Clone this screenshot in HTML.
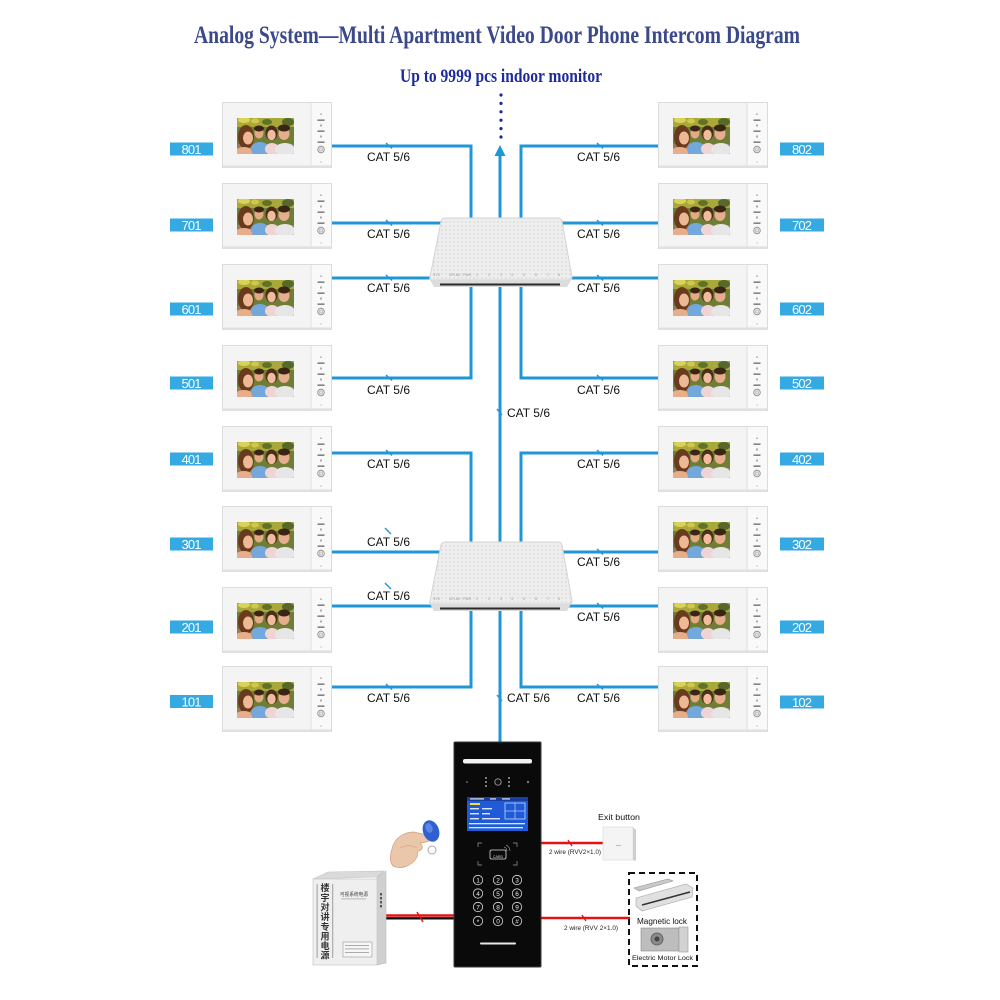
<!DOCTYPE html>
<html><head><meta charset="utf-8">
<style>
html,body{margin:0;padding:0;background:#fff;}
svg{display:block;}
</style></head>
<body>
<svg width="1000" height="1000" viewBox="0 0 1000 1000" xmlns="http://www.w3.org/2000/svg">
<defs>
  <clipPath id="scr"><rect x="15" y="16" width="57" height="36"/></clipPath>
  <g id="mon">
    <rect x="0.5" y="0.5" width="109" height="65" fill="#f4f4f4" stroke="#dcdcdc"/>
    <rect x="1" y="63.5" width="108" height="2.5" fill="#e0e0e0"/>
    <rect x="89" y="1" width="20" height="62" fill="#f9f9f9"/>
    <line x1="89" y1="1" x2="89" y2="64" stroke="#e0e0e0"/>
    <g clip-path="url(#scr)">
      <rect x="15" y="16" width="57" height="36" fill="#6f7e36"/>
      <rect x="15" y="16" width="57" height="9" fill="#a9a83a"/>
      <ellipse cx="22" cy="18" rx="6" ry="3" fill="#d9d357"/>
      <ellipse cx="33" cy="19" rx="4" ry="2.5" fill="#cfc84a"/>
      <ellipse cx="45" cy="20" rx="5" ry="3" fill="#5f7226"/>
      <ellipse cx="66" cy="20" rx="6" ry="4" fill="#56692a"/>
      <rect x="15" y="42" width="57" height="10" fill="#9a7a5a"/>
      <!-- woman -->
      <ellipse cx="24" cy="35" rx="8" ry="12" fill="#6a3a1c"/>
      <ellipse cx="26" cy="36" rx="5" ry="6.5" fill="#edb896"/>
      <ellipse cx="22" cy="50" rx="9" ry="5" fill="#e8ae8c"/>
      <!-- boy -->
      <ellipse cx="38" cy="47" rx="9" ry="7" fill="#72a8dc"/>
      <ellipse cx="37" cy="31" rx="4.5" ry="5.5" fill="#e4aa84"/>
      <ellipse cx="37" cy="26.5" rx="5" ry="3" fill="#3b2414"/>
      <!-- girl -->
      <ellipse cx="50" cy="47" rx="7" ry="6" fill="#f0d4d4"/>
      <ellipse cx="49.5" cy="31" rx="6" ry="7.5" fill="#4d2c18"/>
      <ellipse cx="49.5" cy="33" rx="4.2" ry="5.3" fill="#efbc9c"/>
      <!-- man -->
      <ellipse cx="63" cy="48" rx="10" ry="7" fill="#e6e6e6"/>
      <ellipse cx="62" cy="31.5" rx="5.5" ry="6.5" fill="#e6ae8c"/>
      <ellipse cx="62" cy="26" rx="6" ry="3.5" fill="#3a2414"/>
    </g>
    <rect x="98.3" y="11.5" width="1.4" height="1.4" fill="#999"/>
    <rect x="95.5" y="17.5" width="7" height="1.3" fill="#666"/>
    <rect x="98" y="22.5" width="2" height="2" fill="#aaa"/>
    <rect x="95.5" y="28.5" width="7" height="1.3" fill="#666"/>
    <rect x="98" y="33.5" width="2" height="2" fill="#aaa"/>
    <rect x="95.5" y="39.5" width="7" height="1.3" fill="#666"/>
    <circle cx="99" cy="47.5" r="3.3" fill="#e8e8e8" stroke="#8a8a8a" stroke-width="0.8"/>
    <circle cx="99" cy="47.5" r="1.5" fill="none" stroke="#aaa" stroke-width="0.6"/>
    <rect x="98.5" y="59.5" width="1" height="1" fill="#999"/>
  </g>
  <pattern id="dots" x="0" y="0" width="4" height="4" patternUnits="userSpaceOnUse">
    <circle cx="2" cy="2" r="0.7" fill="#cdcdcd"/>
  </pattern>
  <g id="sw">
    <path d="M445,218 L558,218 Q561,218 562,221 L572,277 Q572,280 569,280 L432,280 Q429,280 430,277 L441,221 Q442,218 445,218 Z" fill="#eeeeee" stroke="#d4d4d4"/>
    <path d="M445,218 L558,218 Q561,218 562,221 L572,277 Q572,280 569,280 L432,280 Q429,280 430,277 L441,221 Q442,218 445,218 Z" fill="url(#dots)"/>
    <polygon points="430,280 571,280 567,287 434,287" fill="#dcdcdc"/>
    <rect x="440" y="283.5" width="120" height="2" fill="#2a2a2a"/>
    <g font-family="Liberation Sans, sans-serif" font-size="3.5" fill="#999">
      <text x="433" y="276">SYS</text>
      <text x="449" y="276">UPLNK</text>
      <text x="463" y="276">PWR</text>
      <text x="476" y="276">1</text><text x="488" y="276">2</text><text x="500" y="276">3</text>
      <text x="511" y="276">4</text><text x="523" y="276">5</text><text x="535" y="276">6</text>
      <text x="547" y="276">7</text><text x="558" y="276">8</text>
    </g>
  </g>
</defs>

<!-- Title -->
<text x="194" y="43" textLength="606" lengthAdjust="spacingAndGlyphs" font-family="Liberation Serif, serif" font-weight="bold" font-size="25" fill="#3b4889">Analog System—Multi Apartment Video Door Phone Intercom Diagram</text>
<text x="400" y="82" textLength="202" lengthAdjust="spacingAndGlyphs" font-family="Liberation Serif, serif" font-weight="bold" font-size="19" fill="#1d2b9c">Up to 9999 pcs indoor monitor</text>

<!-- dots -->
<g fill="#1c2a96">
  <circle cx="501" cy="95" r="1.6"/><circle cx="501" cy="103.4" r="1.6"/><circle cx="501" cy="111.8" r="1.6"/>
  <circle cx="501" cy="120.2" r="1.6"/><circle cx="501" cy="128.6" r="1.6"/><circle cx="501" cy="137" r="1.6"/>
</g>

<!-- blue cables -->
<g stroke="#1f97d6" stroke-width="3" fill="none">
  <path d="M331,146 H471 V225"/>
  <path d="M331,223 H500"/>
  <path d="M331,278 H500"/>
  <path d="M331,378 H471 V280"/>
  <path d="M500,155 V742"/>
  <path d="M331,453 H471 V550"/>
  <path d="M331,552 H500"/>
  <path d="M331,606 H500"/>
  <path d="M331,687 H471 V605"/>
  <path d="M658,146 H521 V225"/>
  <path d="M658,223 H500"/>
  <path d="M658,278 H500"/>
  <path d="M658,378 H521 V280"/>
  <path d="M658,453 H521 V550"/>
  <path d="M658,552 H500"/>
  <path d="M658,606 H500"/>
  <path d="M658,687 H521 V605"/>
</g>
<polygon points="500,145 494.5,156 505.5,156" fill="#1f97d6"/>

<!-- ticks -->
<g stroke="#1f97d6" stroke-width="1.4">
  <line x1="386" y1="143" x2="392" y2="148.5"/>
  <line x1="386" y1="220" x2="392" y2="225.5"/>
  <line x1="386" y1="275" x2="392" y2="280.5"/>
  <line x1="386" y1="375" x2="392" y2="380.5"/>
  <line x1="386" y1="450" x2="392" y2="455.5"/>
  <line x1="385" y1="528" x2="391" y2="534"/>
  <line x1="385" y1="583" x2="391" y2="589"/>
  <line x1="386" y1="684" x2="392" y2="689.5"/>
  <line x1="597" y1="143" x2="603" y2="148.5"/>
  <line x1="597" y1="220" x2="603" y2="225.5"/>
  <line x1="597" y1="275" x2="603" y2="280.5"/>
  <line x1="597" y1="375" x2="603" y2="380.5"/>
  <line x1="597" y1="450" x2="603" y2="455.5"/>
  <line x1="597" y1="549" x2="603" y2="554.5"/>
  <line x1="597" y1="603" x2="603" y2="608.5"/>
  <line x1="597" y1="684" x2="603" y2="689.5"/>
  <line x1="497" y1="409" x2="502" y2="415"/>
  <line x1="497" y1="695" x2="502" y2="701"/>
</g>

<!-- CAT labels -->
<g font-family="Liberation Sans, sans-serif" font-size="12" fill="#111">
  <text x="367" y="161" textLength="43">CAT 5/6</text>
  <text x="367" y="238" textLength="43">CAT 5/6</text>
  <text x="367" y="292" textLength="43">CAT 5/6</text>
  <text x="367" y="394" textLength="43">CAT 5/6</text>
  <text x="367" y="468" textLength="43">CAT 5/6</text>
  <text x="367" y="546" textLength="43">CAT 5/6</text>
  <text x="367" y="600" textLength="43">CAT 5/6</text>
  <text x="367" y="702" textLength="43">CAT 5/6</text>
  <text x="577" y="161" textLength="43">CAT 5/6</text>
  <text x="577" y="238" textLength="43">CAT 5/6</text>
  <text x="577" y="292" textLength="43">CAT 5/6</text>
  <text x="577" y="394" textLength="43">CAT 5/6</text>
  <text x="577" y="468" textLength="43">CAT 5/6</text>
  <text x="577" y="566" textLength="43">CAT 5/6</text>
  <text x="577" y="621" textLength="43">CAT 5/6</text>
  <text x="577" y="702" textLength="43">CAT 5/6</text>
  <text x="507" y="417" textLength="43">CAT 5/6</text>
  <text x="507" y="702" textLength="43">CAT 5/6</text>
</g>

<!-- switches -->
<use href="#sw"/>
<use href="#sw" transform="translate(0,324)"/>

<!-- monitors -->
<use href="#mon" x="222" y="102"/>
<use href="#mon" x="222" y="183"/>
<use href="#mon" x="222" y="264"/>
<use href="#mon" x="222" y="345"/>
<use href="#mon" x="222" y="426"/>
<use href="#mon" x="222" y="506"/>
<use href="#mon" x="222" y="587"/>
<use href="#mon" x="222" y="666"/>
<use href="#mon" x="658" y="102"/>
<use href="#mon" x="658" y="183"/>
<use href="#mon" x="658" y="264"/>
<use href="#mon" x="658" y="345"/>
<use href="#mon" x="658" y="426"/>
<use href="#mon" x="658" y="506"/>
<use href="#mon" x="658" y="587"/>
<use href="#mon" x="658" y="666"/>

<!-- room labels -->
<g fill="#34a9e2">
  <rect x="170" y="142.5" width="43" height="13"/>
  <rect x="170" y="218.5" width="43" height="13"/>
  <rect x="170" y="302.5" width="43" height="13"/>
  <rect x="170" y="376.5" width="43" height="13"/>
  <rect x="170" y="452.5" width="43" height="13"/>
  <rect x="170" y="537.5" width="43" height="13"/>
  <rect x="170" y="620.5" width="43" height="13"/>
  <rect x="170" y="695" width="43" height="13"/>
  <rect x="780" y="142.5" width="44" height="13"/>
  <rect x="780" y="218.5" width="44" height="13"/>
  <rect x="780" y="302.5" width="44" height="13"/>
  <rect x="780" y="376.5" width="44" height="13"/>
  <rect x="780" y="452.5" width="44" height="13"/>
  <rect x="780" y="537.5" width="44" height="13"/>
  <rect x="780" y="620.5" width="44" height="13"/>
  <rect x="780" y="695.5" width="44" height="13"/>
</g>
<g font-family="Liberation Sans, sans-serif" font-size="13" fill="#ffffff" text-anchor="middle">
  <text x="191.5" y="154" textLength="20">801</text>
  <text x="191.5" y="230" textLength="20">701</text>
  <text x="191.5" y="314" textLength="20">601</text>
  <text x="191.5" y="388" textLength="20">501</text>
  <text x="191.5" y="464" textLength="20">401</text>
  <text x="191.5" y="549" textLength="20">301</text>
  <text x="191.5" y="632" textLength="20">201</text>
  <text x="191.5" y="706.5" textLength="20">101</text>
  <text x="802" y="154" textLength="20">802</text>
  <text x="802" y="230" textLength="20">702</text>
  <text x="802" y="314" textLength="20">602</text>
  <text x="802" y="388" textLength="20">502</text>
  <text x="802" y="464" textLength="20">402</text>
  <text x="802" y="549" textLength="20">302</text>
  <text x="802" y="632" textLength="20">202</text>
  <text x="802" y="707" textLength="20">102</text>
</g>

<!-- red wires -->
<line x1="386" y1="915.5" x2="455" y2="915.5" stroke="#e01414" stroke-width="2.6"/>
<line x1="386" y1="918.3" x2="455" y2="918.3" stroke="#111" stroke-width="2.4"/>
<line x1="417" y1="912" x2="423" y2="922" stroke="#e01414" stroke-width="1.4"/>
<line x1="540" y1="843" x2="604" y2="843" stroke="#e01414" stroke-width="2.4"/>
<line x1="568" y1="840" x2="572" y2="846" stroke="#e01414" stroke-width="1.3"/>
<line x1="540" y1="918" x2="630" y2="918" stroke="#e01414" stroke-width="2.4"/>
<line x1="582" y1="915" x2="586" y2="921" stroke="#e01414" stroke-width="1.3"/>

<!-- door station -->
<rect x="454" y="742" width="87" height="225" fill="#0a0a0a" stroke="#3a3a3a" rx="1"/>
<rect x="463" y="759" width="69" height="4.5" rx="2" fill="#f2f2f2"/>
<circle cx="467" cy="782" r="0.9" fill="#777"/>
<circle cx="528" cy="782" r="1.1" fill="#888"/>
<g fill="#cfcfcf">
  <circle cx="486" cy="778" r="0.9"/><circle cx="486" cy="782" r="0.9"/><circle cx="486" cy="786" r="0.9"/>
  <circle cx="509" cy="778" r="0.9"/><circle cx="509" cy="782" r="0.9"/><circle cx="509" cy="786" r="0.9"/>
</g>
<circle cx="498" cy="782" r="3.2" fill="#111" stroke="#9a9a9a" stroke-width="0.9"/>
<rect x="467" y="797" width="61" height="34" fill="#1f5bd6"/>
<rect x="467" y="797" width="61" height="4" fill="#163f9f"/>
<g fill="#ffffff" opacity="0.85">
  <rect x="470" y="798.3" width="14" height="1.2"/><rect x="490" y="798.3" width="6" height="1.2"/><rect x="502" y="798.3" width="8" height="1.2"/>
  <rect x="470" y="808" width="9" height="1.4"/><rect x="482" y="808" width="10" height="1.4"/>
  <rect x="470" y="813" width="9" height="1.4"/><rect x="482" y="813" width="8" height="1.4"/>
  <rect x="470" y="818" width="9" height="1.4"/><rect x="482" y="818" width="18" height="1.4"/>
  <rect x="469" y="823" width="56" height="1.3"/><rect x="469" y="827" width="54" height="1.3"/>
</g>
<rect x="470" y="803" width="10" height="2" fill="#f2e04a"/>
<rect x="505" y="803" width="20" height="16" fill="none" stroke="#fff" stroke-width="0.6"/>
<line x1="515" y1="803" x2="515" y2="819" stroke="#fff" stroke-width="0.5"/>
<line x1="505" y1="811" x2="525" y2="811" stroke="#fff" stroke-width="0.5"/>
<g stroke="#7a7a7a" stroke-width="0.9" fill="none">
  <path d="M478,847 V843 H482"/><path d="M513,843 H517 V847"/>
  <path d="M478,861 V865 H482"/><path d="M513,865 H517 V861"/>
</g>
<rect x="490" y="850" width="16" height="9" rx="1.5" fill="none" stroke="#ddd" stroke-width="0.8"/>
<text x="498" y="858" text-anchor="middle" font-family="Liberation Sans, sans-serif" font-size="3.6" fill="#ddd">CARD</text>
<path d="M504,847 Q507,848 507,851 M506,845 Q510,847 510,851" stroke="#aaa" stroke-width="0.6" fill="none"/>
<g stroke="#d8d8d8" stroke-width="0.8" fill="none">
  <circle cx="478" cy="880" r="4.7"/><circle cx="498" cy="880" r="4.7"/><circle cx="517" cy="880" r="4.7"/>
  <circle cx="478" cy="893.5" r="4.7"/><circle cx="498" cy="893.5" r="4.7"/><circle cx="517" cy="893.5" r="4.7"/>
  <circle cx="478" cy="907" r="4.7"/><circle cx="498" cy="907" r="4.7"/><circle cx="517" cy="907" r="4.7"/>
  <circle cx="478" cy="921" r="4.7"/><circle cx="498" cy="921" r="4.7"/><circle cx="517" cy="921" r="4.7"/>
</g>
<g font-family="Liberation Sans, sans-serif" font-size="6.5" fill="#eeeeee" text-anchor="middle">
  <text x="478" y="882.3">1</text><text x="498" y="882.3">2</text><text x="517" y="882.3">3</text>
  <text x="478" y="895.8">4</text><text x="498" y="895.8">5</text><text x="517" y="895.8">6</text>
  <text x="478" y="909.3">7</text><text x="498" y="909.3">8</text><text x="517" y="909.3">9</text>
  <text x="478" y="924">*</text><text x="498" y="923.3">0</text><text x="517" y="923.3">#</text>
</g>
<rect x="480" y="942.5" width="36" height="2" rx="1" fill="#e8e8e8"/>

<!-- hand with keyfob -->
<path d="M392,849 C394,838 404,832 414,832 L427,835 C432,837 431,842 426,842 L420,843 C424,846 423,850 418,851 L417,857 C412,866 401,870 393,866 C389,861 390,855 392,849 Z" fill="#eac6ab" stroke="#cfa184" stroke-width="0.7"/>
<path d="M400,848 C406,845 412,845 417,848" stroke="#cfa184" stroke-width="0.6" fill="none"/>
<ellipse cx="431" cy="831" rx="8" ry="11" transform="rotate(-20 431 831)" fill="#2f5fd0"/>
<ellipse cx="429" cy="828" rx="3.5" ry="5" transform="rotate(-20 429 828)" fill="#5a86e6"/>
<circle cx="432" cy="850" r="4" fill="none" stroke="#a8a8a8" stroke-width="1"/>

<!-- power supply -->
<polygon points="328,872 384,871 377,877 313,879" fill="#dadada" stroke="#c4c4c4" stroke-width="0.6"/>
<polygon points="377,877 386,871 386,963 377,965" fill="#d0d0d0" stroke="#bdbdbd" stroke-width="0.6"/>
<rect x="313" y="879" width="64" height="86" fill="#efefef" stroke="#c8c8c8" stroke-width="0.7"/>
<g fill="#555">
  <rect x="380" y="893" width="2" height="2.4"/><rect x="380" y="897" width="2" height="2.4"/>
  <rect x="380" y="901" width="2" height="2.4"/><rect x="380" y="905" width="2" height="2.4"/>
</g>
<g fill="#b0b0b0">
  <rect x="316.5" y="884" width="1.3" height="74"/>
  <rect x="332" y="884" width="1.3" height="74"/>
</g>
<g font-family="Liberation Sans, 'Noto Sans CJK SC', sans-serif" font-size="9" font-weight="bold" fill="#333" text-anchor="middle">
  <text x="325" y="891">楼</text><text x="325" y="901">宇</text><text x="325" y="910.5">对</text><text x="325" y="920">讲</text>
  <text x="325" y="930">专</text><text x="325" y="939.5">用</text><text x="325" y="949">电</text><text x="325" y="958.5">源</text>
</g>
<text x="340" y="896" textLength="28" lengthAdjust="spacingAndGlyphs" font-family="Liberation Sans, 'Noto Sans CJK SC', sans-serif" font-size="5" fill="#444">可视系统电源</text>
<rect x="341" y="898.5" width="25" height="0.8" fill="#aaa"/>
<rect x="343" y="942" width="29" height="15" fill="#f6f6f6" stroke="#999" stroke-width="0.6"/>
<g fill="#999"><rect x="345" y="945" width="24" height="0.8"/><rect x="345" y="948.5" width="24" height="0.8"/><rect x="345" y="952" width="24" height="0.8"/></g>

<!-- exit button -->
<text x="598" y="820" textLength="42" lengthAdjust="spacingAndGlyphs" font-family="Liberation Sans, sans-serif" font-size="8" fill="#111">Exit button</text>
<rect x="603" y="827" width="30" height="33" fill="#f4f4f4" stroke="#dcdcdc" stroke-width="0.7"/>
<polygon points="633,827 636,830 636,861 633,860" fill="#cfcfcf"/>
<rect x="616" y="845" width="5" height="1" fill="#bbb"/>
<text x="549" y="854" textLength="52" lengthAdjust="spacingAndGlyphs" font-family="Liberation Sans, sans-serif" font-size="6" fill="#222">2 wire (RVV2×1.0)</text>
<text x="564" y="930" textLength="54" lengthAdjust="spacingAndGlyphs" font-family="Liberation Sans, sans-serif" font-size="6" fill="#222">2 wire (RVV 2×1.0)</text>

<!-- locks -->
<rect x="629" y="873" width="68" height="93" fill="none" stroke="#111" stroke-width="2" stroke-dasharray="6,4"/>
<polygon points="634,888 668,879 673,881 639,891" fill="#c9c9c9" stroke="#999" stroke-width="0.6"/>
<polygon points="636,898 686,884 693,888 692,897 642,911 636,906" fill="#e0e0e0" stroke="#a8a8a8" stroke-width="0.6"/>
<line x1="642" y1="905" x2="690" y2="892" stroke="#333" stroke-width="1.5"/>
<text x="637" y="924" textLength="50" lengthAdjust="spacingAndGlyphs" font-family="Liberation Sans, sans-serif" font-size="8" fill="#111">Magnetic lock</text>
<rect x="641" y="928" width="38" height="23" fill="#bdbdbd" stroke="#888" stroke-width="0.6"/>
<rect x="679" y="927" width="9" height="25" fill="#d2d2d2" stroke="#999" stroke-width="0.6"/>
<circle cx="657" cy="939" r="6" fill="#8a8a8a" stroke="#555" stroke-width="0.8"/>
<circle cx="657" cy="939" r="2.5" fill="#444"/>
<text x="632" y="960" textLength="61" lengthAdjust="spacingAndGlyphs" font-family="Liberation Sans, sans-serif" font-size="6.5" fill="#111">Electric Motor Lock</text>
</svg>
</body></html>
